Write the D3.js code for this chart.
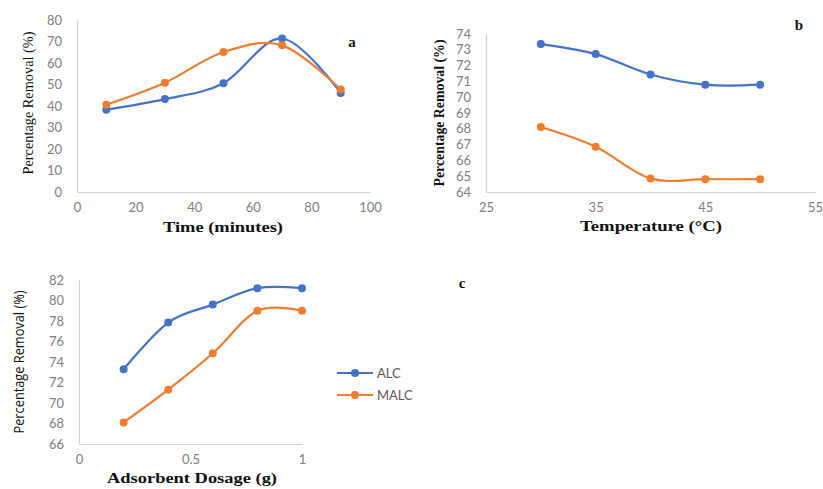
<!DOCTYPE html>
<html><head><meta charset="utf-8">
<script src="https://cdn.jsdelivr.net/npm/d3@7"></script>
<style>body{margin:0;background:#fff}svg{display:block}</style>
</head><body>
<svg id="chart" width="823" height="489"></svg>
<script>
// Panel a: contact time
const timeX = [10, 30, 50, 70, 90];
const timeALC = [38.3, 43.2, 50.6, 71.4, 46.1];
const timeMALC = [40.6, 50.8, 65.1, 68.2, 47.7];
const timeTicksX = [0, 20, 40, 60, 80, 100];
const timeTicksY = [0, 10, 20, 30, 40, 50, 60, 70, 80];
// Panel b: temperature
const tempX = [30, 35, 40, 45, 50];
const tempALC = [73.36, 72.73, 71.44, 70.79, 70.79];
const tempMALC = [68.11, 66.86, 64.86, 64.81, 64.81];
const tempTicksX = [25, 35, 45, 55];
const tempTicksY = [64, 65, 66, 67, 68, 69, 70, 71, 72, 73, 74];
// Panel c: adsorbent dosage
const doseX = [0.2, 0.4, 0.6, 0.8, 1.0];
const doseALC = [73.3, 77.85, 79.6, 81.2, 81.2];
const doseMALC = [68.1, 71.3, 74.85, 79.0, 79.0];
const doseTicksX = [0, 0.5, 1];
const doseTicksY = [66, 68, 70, 72, 74, 76, 78, 80, 82];
const seriesNames = ["ALC", "MALC"];
const colors = ["#4472C4", "#ED7D31"];

const svg = d3.select("#chart");
const tickFont = "Lato, 'Open Sans', sans-serif";
const serif = "'Liberation Serif', 'DejaVu Serif', serif";

function panel(o) {
  const x = d3.scaleLinear().domain(o.xd).range(o.xr);
  const y = d3.scaleLinear().domain(o.yd).range(o.yr);
  const g = svg.append("g");
  const ax = g.append("g").attr("transform", `translate(0,${o.yr[0]})`)
    .call(d3.axisBottom(x).tickValues(o.tx).tickSize(0).tickPadding(11).tickFormat(d3.format("")));
  const ay = g.append("g").attr("transform", `translate(${o.xr[0]},0)`)
    .call(d3.axisLeft(y).tickValues(o.ty).tickSize(0).tickPadding(15).tickFormat(d3.format("")));
  [ax, ay].forEach(a => {
    a.select(".domain").attr("stroke", "#d0d0d0").attr("stroke-width", 1.2);
    a.selectAll("text").attr("fill", "#808080").style("font-family", tickFont).style("font-size", "13px");
  });
  const line = d3.line().x(d => x(d[0])).y(d => y(d[1])).curve(d3.curveCardinal.tension(0));
  o.series.forEach((s, i) => {
    const pts = o.xs.map((v, j) => [v, s[j]]);
    g.append("path").datum(pts).attr("d", line).attr("fill", "none")
      .attr("stroke", colors[i]).attr("stroke-width", 2.2);
    g.selectAll(null).data(pts).enter().append("circle")
      .attr("cx", d => x(d[0])).attr("cy", d => y(d[1])).attr("r", 4)
      .attr("fill", colors[i]);
  });
  const xt = o.xt;
  g.append("text").attr("x", xt.x).attr("y", xt.y).attr("text-anchor", "middle")
    .attr("textLength", xt.len).attr("lengthAdjust", "spacingAndGlyphs")
    .style("font-family", serif).style("font-weight", "bold").style("font-size", "14px")
    .attr("fill", "#111").text(xt.text);
  const yt = o.yt;
  g.append("text").attr("transform", `translate(${yt.x},${yt.y}) rotate(-90)`)
    .attr("text-anchor", "middle").attr("textLength", yt.len).attr("lengthAdjust", "spacingAndGlyphs")
    .style("font-family", yt.font).style("font-weight", yt.weight).style("font-size", yt.size)
    .attr("fill", "#111").text("Percentage Removal (%)");
  g.append("text").attr("x", o.lab.x).attr("y", o.lab.y).attr("text-anchor", "middle")
    .style("font-family", serif).style("font-weight", "bold").style("font-size", "15px")
    .attr("fill", "#111").text(o.lab.t);
}

panel({
  xd: [0, 100], xr: [77, 370], yd: [0, 80], yr: [192, 20],
  tx: timeTicksX, ty: timeTicksY, xs: timeX, series: [timeALC, timeMALC],
  xt: {x: 223, y: 232, len: 120, text: "Time (minutes)"},
  yt: {x: 33, y: 103, len: 143, font: serif, weight: "normal", size: "15px"},
  lab: {x: 352, y: 47, t: "a"}
});
panel({
  xd: [25, 55], xr: [486, 815], yd: [64, 74], yr: [192, 34],
  tx: tempTicksX, ty: tempTicksY, xs: tempX, series: [tempALC, tempMALC],
  xt: {x: 651, y: 231, len: 142, text: "Temperature (°C)"},
  yt: {x: 444, y: 113, len: 147, font: serif, weight: "bold", size: "14px"},
  lab: {x: 799, y: 30, t: "b"}
});
panel({
  xd: [0, 1], xr: [79, 302], yd: [66, 82], yr: [444, 280],
  tx: doseTicksX, ty: doseTicksY, xs: doseX, series: [doseALC, doseMALC],
  xt: {x: 192, y: 483, len: 170, text: "Adsorbent Dosage (g)"},
  yt: {x: 24, y: 362, len: 143, font: "'Open Sans', Lato, sans-serif", weight: "normal", size: "14px"},
  lab: {x: 462, y: 288, t: "c"}
});

const lg = svg.append("g");
seriesNames.forEach((n, i) => {
  const yy = 373 + i * 22;
  lg.append("line").attr("x1", 337).attr("x2", 373).attr("y1", yy).attr("y2", yy)
    .attr("stroke", colors[i]).attr("stroke-width", 2.2);
  lg.append("circle").attr("cx", 355).attr("cy", yy).attr("r", 4).attr("fill", colors[i]);
  lg.append("text").attr("x", 377).attr("y", yy + 4.5).attr("fill", "#595959")
    .style("font-family", tickFont).style("font-size", "13px").text(n);
});
</script>
</body></html>
